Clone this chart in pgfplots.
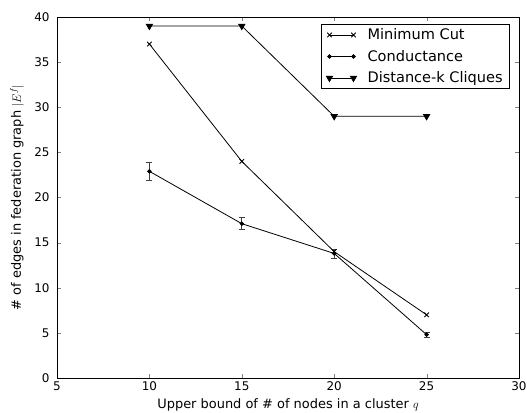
\documentclass[border=0pt]{standalone}
\usepackage{pgfplots}
\pgfplotsset{compat=1.18}
\usetikzlibrary{calc}
\usepackage{fontspec}
\setmainfont{DejaVu Sans}
\begin{document}
\begin{tikzpicture}
\begin{axis}[
    scale only axis,
    width=462bp,
    height=361bp,
    xmin=5,xmax=30,
    ymin=0,ymax=40,
    xtick={5,10,...,30},
    ytick={0,5,...,40},
    tick align=inside,
    major tick length=4bp,
    minor tick num=0,
    /pgf/number format/assume math mode=true,
    tick label style={font=\fontsize{12}{14}\selectfont},
    yticklabel style={xshift=-4bp},
    label style={font=\fontsize{13}{15}\selectfont},
    xlabel={Upper bound of \# of nodes in a cluster $q$},
    ylabel={\# of edges in federation graph $|E^f|$},
    xlabel style={at={(axis description cs:0.5,-0.0748)},anchor=center},
    ylabel style={at={(axis description cs:-0.0866,0.5)},anchor=center},
    axis line style={line width=0.8bp},
    legend style={
        at={(0.9805,0.981)},anchor=north east,
        font=\fontsize{14.6}{16}\selectfont,
        draw=black, line width=0.6bp,
        row sep=5bp,
        inner xsep=5bp, inner ysep=2.5bp,
        cells={anchor=west},
        /tikz/every odd column/.append style={column sep=9bp},
    },
    legend image code/.code={
        \draw[#1] plot coordinates {(0bp,0bp) (24bp,0bp)};
    },
]
\coordinate (ll) at (rel axis cs:0,0);
\coordinate (ur) at (rel axis cs:1,1);

\addplot[black, line width=0.8bp, mark=x, mark size=3.2bp,
    mark options={line width=0.9bp}] coordinates {
    (10,37) (15,24) (20,14) (25,7)
};
\addlegendentry{Minimum Cut}

\addplot[black, line width=0.8bp, mark=*, mark size=1.8bp,
    error bars/.cd, y dir=both, y explicit,
    error bar style={line width=0.7bp, black!75},
    error mark options={rotate=90, mark size=3bp, line width=0.7bp, black!75}]
    coordinates {
    (10,22.9) +- (0,1.0)
    (15,17.1) +- (0,0.65)
    (20,13.8) +- (0,0.5)
    (25,4.8) +- (0,0.3)
};
\addlegendentry{Conductance}

\addplot[black, line width=0.8bp, mark=triangle*, mark size=3.6bp,
    mark options={rotate=180}] coordinates {
    (10,39) (15,39) (20,29) (25,29)
};
\addlegendentry{Distance-k Cliques}

\end{axis}
\pgfresetboundingbox
\path ($(ll)+(-57bp,-35bp)$) rectangle ($(ur)+(8bp,17bp)$);
\end{tikzpicture}
\end{document}
